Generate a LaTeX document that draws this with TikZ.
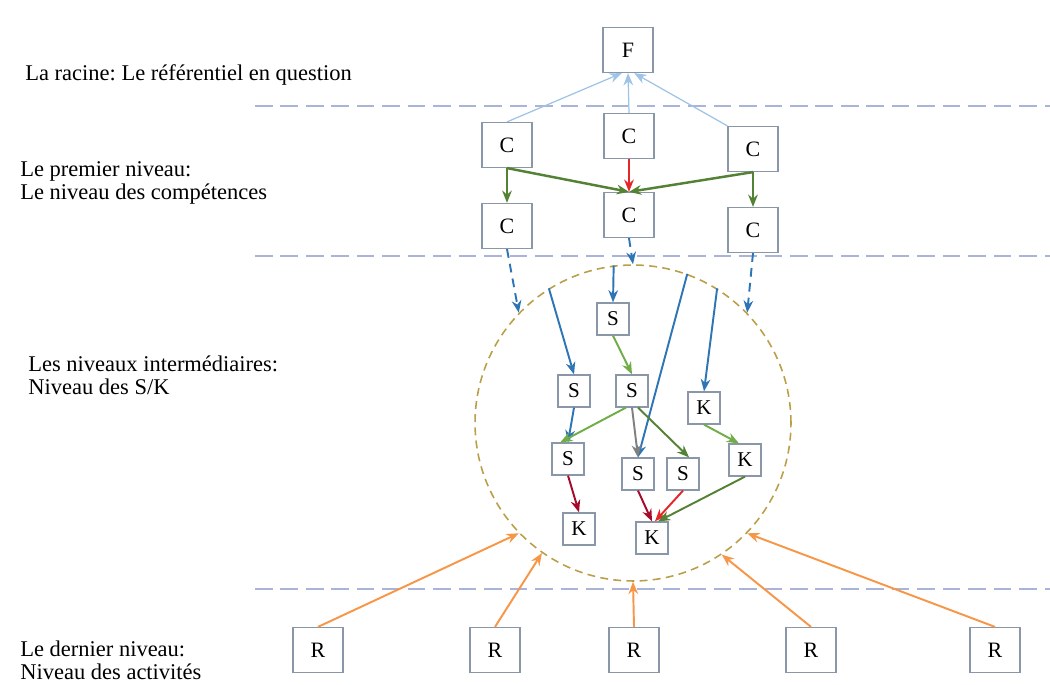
\documentclass[tikz,border=0pt]{standalone}
\usepackage{fontspec}
\setmainfont{Liberation Serif}
\frenchspacing
\usetikzlibrary{arrows.meta, positioning}
\definecolor{boxline}{HTML}{8A97A8}
\definecolor{sepcol}{HTML}{A9B4D8}
\definecolor{skyline}{HTML}{9DC3E6}
\definecolor{deepblue}{HTML}{2E75B6}
\definecolor{leaf}{HTML}{548235}
\definecolor{lightleaf}{HTML}{70AD47}
\definecolor{redline}{HTML}{E5262B}
\definecolor{wine}{HTML}{A50A2A}
\definecolor{amber}{HTML}{F79646}
\definecolor{ringcol}{HTML}{B9A048}

\begin{document}
\begin{tikzpicture}[x=0.02cm, y=-0.02cm, >={Stealth[length=7pt,width=5.5pt]},
    bigbox/.style={draw=boxline, line width=0.7pt, fill=white, minimum width=1cm,
      minimum height=0.9cm, inner sep=0pt, font=\fontsize{12.5}{14}\selectfont},
    smallbox/.style={draw=boxline, line width=0.7pt, fill=white, minimum width=0.64cm,
      minimum height=0.64cm, inner sep=0pt, font=\fontsize{12}{14}\selectfont},
    lvl/.style={anchor=west, align=left, inner sep=0pt, font=\fontsize{12.8}{13.3}\selectfont},
    sepline/.style={sepcol, line width=1pt, dash pattern=on 10pt off 4.5pt},
    thin/.style={->, line width=0.7pt},
    mid/.style={->, line width=1.1pt},
    bold/.style={->, line width=1.4pt}]
  \useasboundingbox (0,0) rectangle (1050,685);

  % level labels
  \node[lvl] (lroot) at (25,75) {La racine: Le référentiel en question};
  \node[lvl] (lcomp) at (20,183) {Le premier niveau:\\Le niveau des compétences};
  \node[lvl] (lmid) at (28,375) {Les niveaux intermédiaires:\\Niveau des S/K};
  \node[lvl] (lact) at (20,660) {Le dernier niveau:\\Niveau des activités};

  % level separators
  \draw[sepline] (255,106) -- (1050,106);
  \draw[sepline] (255,256) -- (1050,256);
  \draw[sepline] (255,589) -- (1050,589);

  % root and competences
  \node[bigbox] (f) at (628,50) {F};
  \node[bigbox] (c1) at (507,145) {C};
  \node[bigbox] (c2) at (629,136) {C};
  \node[bigbox] (c3) at (753,149) {C};
  \node[bigbox] (c4) at (507,226) {C};
  \node[bigbox] (c5) at (629,215) {C};
  \node[bigbox] (c6) at (753,230) {C};

  \draw[thin, skyline] (c1.north) -- (f.-105);
  \draw[thin, skyline] (c2.north) -- (f.south);
  \draw[thin, skyline] (c3.north west) -- (f.-75);

  \draw[bold, leaf] (c1.south) -- (c4.north);
  \draw[bold, leaf] (c1.south) -- (c5.north);
  \draw[bold, leaf] (c3.south) -- (c5.north);
  \draw[bold, leaf] (c3.south) -- (c6.north);
  \draw[bold, redline] (c2.south) -- (c5.north);

  % S/K ring
  \node[circle, draw=ringcol, line width=0.9pt, dash pattern=on 4.5pt off 3pt,
    minimum size=6.32cm, inner sep=0pt] (ring) at (633,423) {};

  \draw[mid, deepblue, dash pattern=on 5pt off 3.5pt] (c4.south) -- (ring.136);
  \draw[mid, deepblue, dash pattern=on 5pt off 3.5pt] (c5.south) -- (ring.90);
  \draw[mid, deepblue, dash pattern=on 5pt off 3.5pt] (c6.south) -- (ring.44);

  \node[smallbox] (s1) at (613,319) {S};
  \node[smallbox] (s2) at (574,391) {S};
  \node[smallbox] (s3) at (632,391) {S};
  \node[smallbox] (k1) at (704,408) {K};
  \node[smallbox] (s4) at (568,459) {S};
  \node[smallbox] (s5) at (638,474) {S};
  \node[smallbox] (s6) at (683,474) {S};
  \node[smallbox] (k2) at (745,460) {K};
  \node[smallbox] (k3) at (579,529) {K};
  \node[smallbox] (k4) at (652,538) {K};

  \draw[mid, deepblue] (ring.122) -- (s2.north);
  \draw[mid, deepblue] (ring.97) -- (s1.north);
  \draw[mid, deepblue] (ring.70) -- (s5.north);
  \draw[mid, deepblue] (ring.58) -- (k1.north);
  \draw[mid, deepblue] (s2.south) -- (s4.north);

  \draw[mid, lightleaf] (s1.south) -- (s3.north);
  \draw[mid, lightleaf] (s3.-110) -- (s4.115);
  \draw[mid, gray] (s3.south) -- (s5.north);
  \draw[mid, leaf] (s3.-70) -- (s6.70);
  \draw[mid, lightleaf] (k1.south) -- (k2.110);

  \draw[mid, wine] (s4.south) -- (k3.north);
  \draw[mid, wine] (s5.south) -- (k4.north);
  \draw[mid, redline] (s6.south) -- (k4.80);
  \draw[mid, leaf] (k2.south) -- (k4.70);

  % activities
  \node[bigbox] (r1) at (318,650) {R};
  \node[bigbox] (r2) at (495,650) {R};
  \node[bigbox] (r3) at (634,650) {R};
  \node[bigbox] (r4) at (811,650) {R};
  \node[bigbox] (r5) at (995,650) {R};

  \draw[mid, amber] (r1.north) -- (ring.224);
  \draw[mid, amber] (r2.north) -- (ring.235);
  \draw[mid, amber] (r3.north) -- (ring.270);
  \draw[mid, amber] (r4.north) -- (ring.304);
  \draw[mid, amber] (r5.north) -- (ring.316);
\end{tikzpicture}
\end{document}
